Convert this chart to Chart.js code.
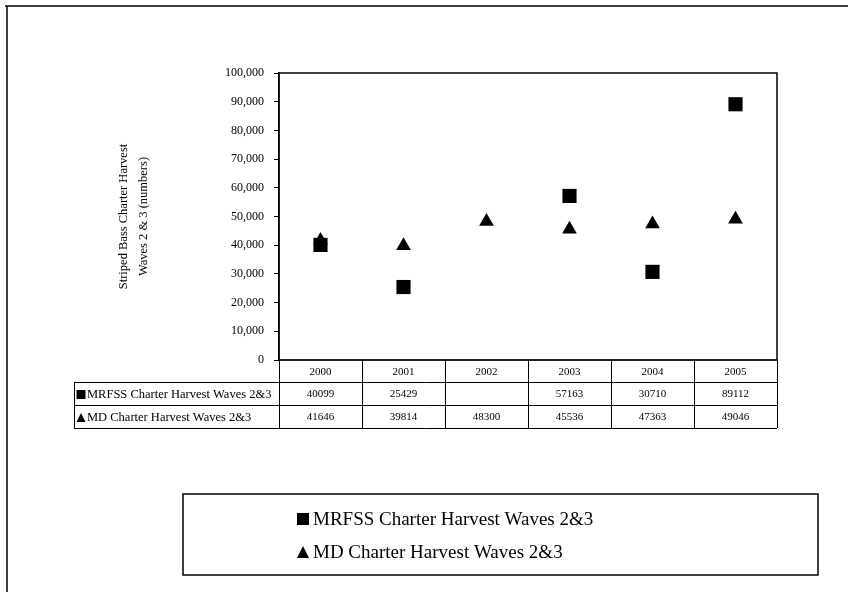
<!DOCTYPE html>
<html>
<head>
<meta charset="utf-8">
<script src="https://cdn.jsdelivr.net/npm/chart.js@4"></script>
<style>
  html, body { margin: 0; padding: 0; background: #fff; }
  #chart { display: block; }
</style>
</head>
<body>
<canvas id="chart" width="848" height="601"></canvas>
<script>
// chart data
const years = ['2000', '2001', '2002', '2003', '2004', '2005'];
const mrfssLabel = 'MRFSS Charter Harvest Waves 2&3';
const mdLabel = 'MD Charter Harvest Waves 2&3';
const mrfssValues = [40099, 25429, null, 57163, 30710, 89112];
const mdValues = [41646, 39814, 48300, 45536, 47363, 49046];
const yTitle = ['Striped Bass Charter Harvest', 'Waves 2 & 3 (numbers)'];

const serif = '"Liberation Serif", "Times New Roman", serif';

function drawMarker(ctx, style, cx, cy, s) {
    ctx.beginPath();
    if (style === 'rect') {
        ctx.rect(cx - s / 2, cy - s / 2, s, s);
    } else {
        ctx.moveTo(cx, cy - s / 2);
        ctx.lineTo(cx + s / 2, cy + s / 2);
        ctx.lineTo(cx - s / 2, cy + s / 2);
        ctx.closePath();
    }
    ctx.fill();
}

// page frame + white background
const framePlugin = {
    id: 'frame',
    beforeDraw(chart) {
        const ctx = chart.ctx;
        ctx.save();
        ctx.fillStyle = '#fff';
        ctx.fillRect(0, 0, chart.width, chart.height);
        ctx.strokeStyle = '#000';
        ctx.lineWidth = 1.5;
        ctx.beginPath();
        ctx.moveTo(5, 6);
        ctx.lineTo(848, 6);
        ctx.moveTo(7, 6);
        ctx.lineTo(7, 592);
        ctx.stroke();
        ctx.restore();
    }
};

// plot border, data table under the plot, and the boxed legend
const tablePlugin = {
    id: 'dataTable',
    afterDraw(chart) {
        const ctx = chart.ctx;
        const area = chart.chartArea;
        const xs = chart.scales.x;
        const colW = xs.getPixelForValue(1) - xs.getPixelForValue(0);
        const rows = [area.bottom, area.bottom + 22, area.bottom + 45, area.bottom + 68];
        const labelLeft = 74;

        ctx.save();
        ctx.strokeStyle = '#000';
        ctx.lineWidth = 1.5;
        ctx.strokeRect(area.left, area.top, area.right - area.left, area.bottom - area.top);

        ctx.lineWidth = 1;
        ctx.beginPath();
        // horizontal lines
        ctx.moveTo(area.left, rows[0]); ctx.lineTo(area.right, rows[0]);
        for (let r = 1; r < rows.length; r++) {
            ctx.moveTo(labelLeft, rows[r] + 0.5);
            ctx.lineTo(area.right, rows[r] + 0.5);
        }
        // vertical lines
        for (let i = 0; i <= years.length; i++) {
            const px = Math.round(xs.getPixelForValue(0) - colW / 2 + i * colW) + 0.5;
            ctx.moveTo(px, rows[0]);
            ctx.lineTo(px, rows[3]);
        }
        ctx.moveTo(labelLeft + 0.5, rows[1]);
        ctx.lineTo(labelLeft + 0.5, rows[3]);
        ctx.stroke();

        ctx.fillStyle = '#000';
        ctx.textBaseline = 'middle';
        ctx.textAlign = 'center';
        ctx.font = '11px ' + serif;
        years.forEach((y, i) => {
            ctx.fillText(y, xs.getPixelForValue(i), (rows[0] + rows[1]) / 2 + 1);
        });
        chart.data.datasets.forEach((ds, r) => {
            const cy = (rows[r + 1] + rows[r + 2]) / 2 + 1;
            ctx.textAlign = 'center';
            ctx.font = '11px ' + serif;
            ds.data.forEach((v, i) => {
                if (v !== null) ctx.fillText(String(v), xs.getPixelForValue(i), cy);
            });
            drawMarker(ctx, ds.pointStyle, labelLeft + 7, cy, 9);
            ctx.textAlign = 'left';
            ctx.font = '12.5px ' + serif;
            ctx.fillText(ds.label, labelLeft + 13, cy);
        });

        // legend box
        ctx.lineWidth = 1.5;
        ctx.strokeRect(183, 494, 635, 81);
        ctx.font = '19px ' + serif;
        ctx.textAlign = 'left';
        chart.data.datasets.forEach((ds, r) => {
            const cy = 519 + r * 33;
            drawMarker(ctx, ds.pointStyle, 303, cy, 12);
            ctx.fillText(ds.label, 313, cy + 1);
        });
        ctx.restore();
    }
};

const ctx = document.getElementById('chart').getContext('2d');
const chart = new Chart(ctx, {
    type: 'line',
    data: {
        labels: years,
        datasets: [{
            label: mrfssLabel,
            data: mrfssValues,
            showLine: false,
            pointStyle: 'rect',
            pointRadius: 10,
            pointBackgroundColor: '#000',
            pointBorderColor: '#000',
            pointBorderWidth: 0
        }, {
            label: mdLabel,
            data: mdValues,
            showLine: false,
            pointStyle: 'triangle',
            pointRadius: 8.5,
            pointBackgroundColor: '#000',
            pointBorderColor: '#000',
            pointBorderWidth: 0
        }]
    },
    options: {
        responsive: false,
        animation: false,
        devicePixelRatio: 1,
        layout: {
            padding: { left: 100, top: 73, right: 71, bottom: 241 }
        },
        plugins: {
            legend: { display: false },
            tooltip: { enabled: false }
        },
        scales: {
            x: {
                type: 'category',
                display: false,
                offset: true
            },
            y: {
                min: 0,
                max: 100000,
                afterFit: function (scale) {
                    scale.width = 179;
                },
                ticks: {
                    stepSize: 10000,
                    color: '#000',
                    padding: 10,
                    font: { family: serif, size: 12 }
                },
                grid: {
                    drawOnChartArea: false,
                    drawTicks: true,
                    tickLength: 5,
                    color: '#000'
                },
                border: { color: '#000', width: 1.5 },
                title: {
                    display: true,
                    text: yTitle,
                    color: '#000',
                    padding: { top: 14, bottom: 0 },
                    font: { family: serif, size: 12.5, lineHeight: 1.6 }
                }
            }
        }
    },
    plugins: [framePlugin, tablePlugin]
});
</script>
</body>
</html>
